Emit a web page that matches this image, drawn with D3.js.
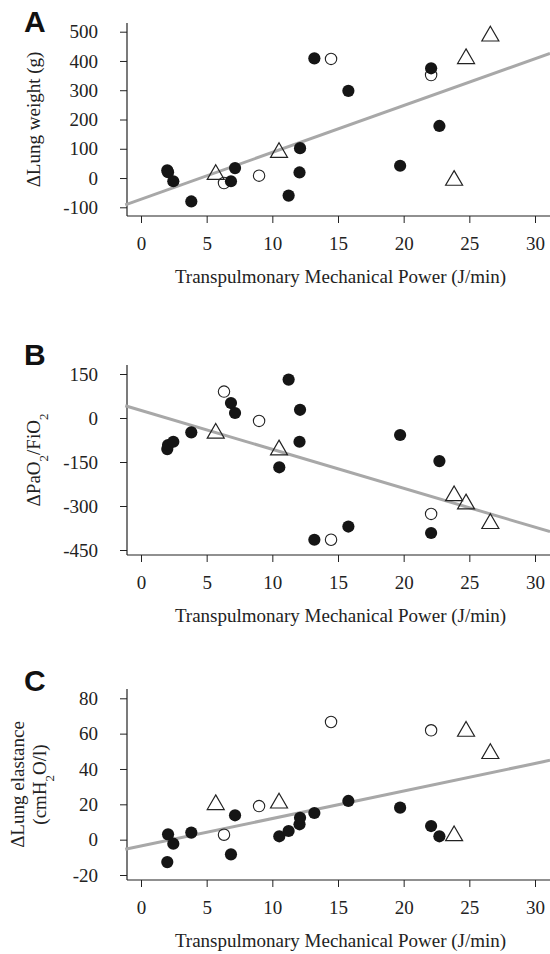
<!DOCTYPE html>
<html>
<head>
<meta charset="utf-8">
<script src="https://cdn.jsdelivr.net/npm/d3@7"></script>
<style>
  body { margin: 0; background: #fff; }
  text { font-family: "Liberation Serif", "Times New Roman", serif; fill: #222; }
  .panel-letter { font-family: "Liberation Sans", Arial, sans-serif; font-weight: bold; fill: #111; }
</style>
</head>
<body>
<div id="graph"></div>
<script>
// x values (transpulmonary mechanical power, J/min), one per animal and group
var filledX = [2.0, 2.06, 2.46, 3.83, 6.85, 7.16, 10.53, 11.24, 12.07, 12.11, 13.2, 15.79, 19.73, 22.09, 22.72];
var openX = [6.32, 8.99, 14.47, 22.09];
var triX = [5.69, 10.51, 23.84, 24.75, 26.6];

// panel A: delta lung weight (g)
var weightFilled = [26, 20, -11, -80, -11, 34, null, -60, 19, 102, 409, 298, 42, 375, 178];
var weightOpen = [-17, 8, 407, 352];
var weightTri = [12, 87, -8, 408, 485];
var weightFit = [-72.5, 16.0]; // intercept, slope

// panel B: delta PaO2/FiO2
var oxyFilled = [-106, -92, -81, -49, 51, 17, -168, 131, -81, 28, -415, -370, -58, -392, -147];
var oxyOpen = [90, -10, -415, -327];
var oxyTri = [-52, -109, -265, -293, -360];
var oxyFit = [25.8, -13.27];

// panel C: delta lung elastance (cmH2O/l)
var elastFilled = [-12.7, 3, -2.3, 4, -8.3, 13.8, 1.9, 4.9, 8.7, 12.4, 15.1, 21.9, 18.1, 7.7, 1.9];
var elastOpen = [2.8, 19, 66.6, 61.9];
var elastTri = [19.8, 20.7, 2.2, 61.3, 48.7];
var elastFit = [-3.6, 1.557];

// tick labels
var xTicks = [0, 5, 10, 15, 20, 25, 30];
var weightTicks = [-100, 0, 100, 200, 300, 400, 500];
var oxyTicks = [-450, -300, -150, 0, 150];
var elastTicks = [-20, 0, 20, 40, 60, 80];

var xTitle = 'Transpulmonary Mechanical Power (J/min)';

window.onload = start;

function start() {
    var width = 550;
    var height = 954;
    var serif = '"Liberation Serif", "Times New Roman", serif';

    var svg = d3.select('#graph')
        .append('svg')
        .attr('width', width)
        .attr('height', height)
        .attr('font-family', serif);

    // all three panels share the same x scale
    var xScale = d3.scaleLinear().domain([0, 30]).range([141, 535]);
    var axisX = 127;    // where the y axis line sits
    var lineX0 = -1.2;  // fit line starts a bit left of the axis
    var lineX1 = xScale.invert(width);

    var panels = [
        { letter: 'A', letterY: 32, top: 23, bottom: 216,
          domain: [-100, 500], range: [207.3, 31.7], ticks: weightTicks,
          filled: weightFilled, open: weightOpen, tri: weightTri, fit: weightFit },
        { letter: 'B', letterY: 365, top: 365, bottom: 555,
          domain: [-450, 150], range: [550, 374], ticks: oxyTicks,
          filled: oxyFilled, open: oxyOpen, tri: oxyTri, fit: oxyFit },
        { letter: 'C', letterY: 691, top: 689, bottom: 880,
          domain: [-20, 80], range: [875, 698.3], ticks: elastTicks,
          filled: elastFilled, open: elastOpen, tri: elastTri, fit: elastFit }
    ];

    panels.forEach(function(p, i) {
        var g = svg.append('g');
        var yScale = d3.scaleLinear().domain(p.domain).range(p.range);

        // panel letter
        g.append('text')
            .attr('class', 'panel-letter')
            .attr('x', 24)
            .attr('y', p.letterY)
            .style('font-size', '30px')
            .text(p.letter);

        // y axis
        var yAxis = d3.axisLeft(yScale)
            .tickValues(p.ticks)
            .tickFormat(function(d) { return String(d); })
            .tickSize(7)
            .tickPadding(22);
        var ya = g.append('g')
            .attr('transform', 'translate(' + axisX + ',0)')
            .call(yAxis)
            .attr('font-family', serif)
            .attr('font-size', 19);
        ya.select('.domain').remove();
        ya.selectAll('line').attr('stroke', '#222');
        ya.selectAll('text').attr('fill', '#222');

        // x axis
        var xAxis = d3.axisBottom(xScale)
            .tickValues(xTicks)
            .tickSize(7)
            .tickPadding(14);
        var xa = g.append('g')
            .attr('transform', 'translate(0,' + p.bottom + ')')
            .call(xAxis)
            .attr('font-family', serif)
            .attr('font-size', 19);
        xa.select('.domain').remove();
        xa.selectAll('line').attr('stroke', '#222');
        xa.selectAll('text').attr('fill', '#222');

        // the two axis lines (L shaped, x line runs off the right edge)
        g.append('line')
            .attr('x1', axisX).attr('x2', axisX)
            .attr('y1', p.top).attr('y2', p.bottom)
            .attr('stroke', '#222').attr('stroke-width', 1.2);
        g.append('line')
            .attr('x1', axisX).attr('x2', width)
            .attr('y1', p.bottom).attr('y2', p.bottom)
            .attr('stroke', '#222').attr('stroke-width', 1.2);

        // x axis title
        g.append('text')
            .attr('x', (axisX + width) / 2 + 2)
            .attr('y', p.bottom + 67)
            .attr('text-anchor', 'middle')
            .style('font-size', '19px')
            .text(xTitle);

        // y axis title
        var midY = (p.top + p.bottom) / 2;
        if (i === 0) {
            g.append('text')
                .attr('transform', 'translate(40,' + midY + ') rotate(-90)')
                .attr('text-anchor', 'middle')
                .style('font-size', '19px')
                .text('\u0394Lung weight (g)');
        } else if (i === 1) {
            var t = g.append('text')
                .attr('transform', 'translate(40,' + midY + ') rotate(-90)')
                .attr('text-anchor', 'middle')
                .style('font-size', '19px');
            t.append('tspan').text('\u0394PaO');
            t.append('tspan').attr('baseline-shift', 'sub').style('font-size', '13px').text('2');
            t.append('tspan').text('/FiO');
            t.append('tspan').attr('baseline-shift', 'sub').style('font-size', '13px').text('2');
        } else {
            g.append('text')
                .attr('transform', 'translate(24,' + midY + ') rotate(-90)')
                .attr('text-anchor', 'middle')
                .style('font-size', '19px')
                .text('\u0394Lung elastance');
            var t2 = g.append('text')
                .attr('transform', 'translate(46,' + midY + ') rotate(-90)')
                .attr('text-anchor', 'middle')
                .style('font-size', '19px');
            t2.append('tspan').text('(cmH');
            t2.append('tspan').attr('baseline-shift', 'sub').style('font-size', '13px').text('2');
            t2.append('tspan').text('O/l)');
        }

        // regression line from intercept and slope
        g.append('line')
            .attr('x1', xScale(lineX0))
            .attr('y1', yScale(p.fit[0] + p.fit[1] * lineX0))
            .attr('x2', xScale(lineX1))
            .attr('y2', yScale(p.fit[0] + p.fit[1] * lineX1))
            .attr('stroke', '#a8a8a8')
            .attr('stroke-width', 3);

        // open triangles (R pch 2 shape, centred on its centroid)
        var triData = triX.map(function(x, k) { return { x: x, y: p.tri[k] }; });
        g.append('g').selectAll('path')
            .data(triData)
            .enter()
            .append('path')
            .attr('d', function(d) {
                var cx = xScale(d.x), cy = yScale(d.y);
                return 'M' + cx + ',' + (cy - 9.8) +
                    'L' + (cx + 8.5) + ',' + (cy + 4.9) +
                    'L' + (cx - 8.5) + ',' + (cy + 4.9) + 'Z';
            })
            .attr('fill', 'none')
            .attr('stroke', '#222')
            .attr('stroke-width', 1.2);

        // open circles
        var openData = openX.map(function(x, k) { return { x: x, y: p.open[k] }; });
        g.append('g').selectAll('circle')
            .data(openData)
            .enter()
            .append('circle')
            .attr('cx', function(d) { return xScale(d.x); })
            .attr('cy', function(d) { return yScale(d.y); })
            .attr('r', 5.7)
            .attr('fill', 'none')
            .attr('stroke', '#222')
            .attr('stroke-width', 1.1);

        // filled circles
        var filledData = filledX.map(function(x, k) { return { x: x, y: p.filled[k] }; })
            .filter(function(d) { return d.y !== null; });
        g.append('g').selectAll('circle')
            .data(filledData)
            .enter()
            .append('circle')
            .attr('cx', function(d) { return xScale(d.x); })
            .attr('cy', function(d) { return yScale(d.y); })
            .attr('r', 6.1)
            .attr('fill', '#151515');
    });
}
</script>
</body>
</html>
